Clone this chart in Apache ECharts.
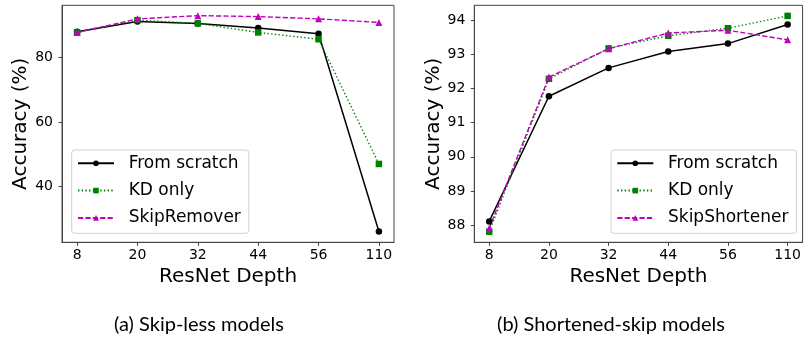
<!DOCTYPE html>
<html>
<head>
<meta charset="utf-8">
<script src="https://cdn.jsdelivr.net/npm/echarts@6/dist/echarts.min.js"></script>
<style>
html,body{margin:0;padding:0;background:#fff;}
#chart{width:804px;height:339px;}
</style>
</head>
<body>
<div id="chart"></div>
<script>
const depthLabels = ['8', '20', '32', '44', '56', '110'];
const seriesNames = ['From scratch', 'KD only'];
const thirdNameA = 'SkipRemover';
const thirdNameB = 'SkipShortener';
const aScratch = [87.9, 91.1, 90.5, 89.1, 87.3, 26.1];
const aKD = [87.7, 91.5, 90.5, 87.7, 85.6, 47.0];
const aSkip = [87.7, 91.9, 92.9, 92.6, 91.9, 90.8];
const bScratch = [88.11, 91.77, 92.60, 93.08, 93.31, 93.87];
const bKD = [87.81, 92.28, 93.17, 93.54, 93.76, 94.12];
const bSkip = [87.91, 92.33, 93.16, 93.62, 93.70, 93.42];
const aTicks = [40, 60, 80];
const bTicks = [88, 89, 90, 91, 92, 93, 94];
const captionA = '(a) Skip-less models';
const captionB = '(b) Shortened-skip models';

const FONT = 'DejaVu Sans';
const idx = depthLabels.map((_, i) => i);
const toPts = arr => arr.map((v, i) => [i, v]);

function xAxis(gi) {
  return {
    type: 'value', gridIndex: gi, min: -0.25, max: 5.25,
    name: 'ResNet Depth', nameLocation: 'middle', nameGap: 24,
    nameTextStyle: {fontFamily: FONT, fontSize: 20, color: '#000', lineHeight: 20},
    axisLine: {show: true, onZero: false, lineStyle: {color: '#444', width: 1}},
    axisTick: {show: true, customValues: idx, length: 3.5, lineStyle: {color: '#444'}},
    axisLabel: {customValues: idx, margin: 6, fontFamily: FONT, fontSize: 14, color: '#000',
      formatter: v => depthLabels[Math.round(v)]},
    splitLine: {show: false}
  };
}
function yAxis(gi, min, max, ticks, gap) {
  return {
    type: 'value', gridIndex: gi, min: min, max: max,
    name: 'Accuracy (%)', nameLocation: 'middle', nameGap: gap,
    nameTextStyle: {fontFamily: FONT, fontSize: 20, color: '#000'},
    axisLine: {show: true, onZero: false, lineStyle: {color: '#444', width: 1}},
    axisTick: {show: true, customValues: ticks, length: 3.5, lineStyle: {color: '#444'}},
    axisLabel: {customValues: ticks, margin: 9, fontFamily: FONT, fontSize: 14, color: '#000'},
    splitLine: {show: false}
  };
}
function mkSeries(gi, name, data, kind) {
  const styles = {
    scratch: {color: '#000000', symbol: 'circle', size: 6.5, type: 'solid', width: 1.5},
    kd: {color: '#008000', symbol: 'rect', size: 6.5, type: [1.4, 2.3], width: 1.4},
    skip: {color: '#bf00bf', symbol: 'triangle', size: 7, type: [5.2, 2.2], width: 1.4}
  }[kind];
  return {
    type: 'line', name: name, xAxisIndex: gi, yAxisIndex: gi,
    data: toPts(data), symbol: styles.symbol, symbolSize: styles.size,
    showSymbol: true, animation: false,
    itemStyle: {color: styles.color},
    lineStyle: {color: styles.color, width: styles.width, type: styles.type}
  };
}
function legend(left, names) {
  return {
    orient: 'vertical', left: left, top: 150,
    data: names,
    itemWidth: 36, itemHeight: 7, itemGap: 10.3,
    padding: [4.8, 8, 6.9, 5.3],
    backgroundColor: 'rgba(255,255,255,0.8)',
    borderColor: '#d0d0d0', borderWidth: 1, borderRadius: 3,
    textStyle: {fontFamily: FONT, fontSize: 17, color: '#000', lineHeight: 17, padding: [0, 0, 0, 9.7]},
    selectedMode: false
  };
}

const chart = echarts.init(document.getElementById('chart'), null, {renderer: 'canvas'});
chart.setOption({
  animation: false,
  backgroundColor: '#fff',
  title: [
    {text: captionA, left: 199, top: 313, textAlign: 'center', padding: 0,
     textStyle: {fontFamily: 'Lato', fontSize: 20, fontWeight: 'normal', color: '#000', lineHeight: 24}},
    {text: captionB, left: 611, top: 313, textAlign: 'center', padding: 0,
     textStyle: {fontFamily: 'Lato', fontSize: 20, fontWeight: 'normal', color: '#000', lineHeight: 24}}
  ],
  grid: [
    {left: 62, top: 5.3, width: 332, height: 237, show: true, borderColor: '#444', borderWidth: 1, backgroundColor: 'transparent'},
    {left: 474.3, top: 5.3, width: 331, height: 237, show: true, borderColor: '#444', borderWidth: 1, backgroundColor: 'transparent'}
  ],
  xAxis: [xAxis(0), xAxis(1)],
  yAxis: [yAxis(0, 22.75, 96.1, aTicks, 29), yAxis(1, 87.5, 94.43, bTicks, 31)],
  legend: [legend(71.7, [seriesNames[0], seriesNames[1], thirdNameA]),
           legend(611, [seriesNames[0], seriesNames[1], thirdNameB])],
  series: [
    mkSeries(0, seriesNames[0], aScratch, 'scratch'),
    mkSeries(0, seriesNames[1], aKD, 'kd'),
    mkSeries(0, thirdNameA, aSkip, 'skip'),
    mkSeries(1, seriesNames[0], bScratch, 'scratch'),
    mkSeries(1, seriesNames[1], bKD, 'kd'),
    mkSeries(1, thirdNameB, bSkip, 'skip')
  ]
});
</script>
</body>
</html>
